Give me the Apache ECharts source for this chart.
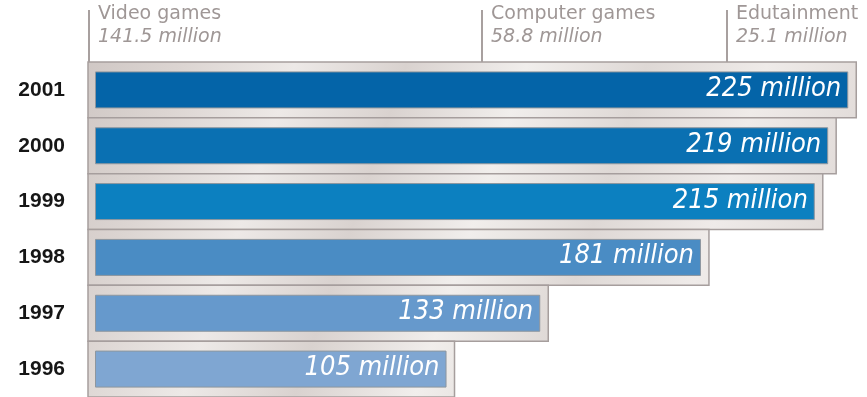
<!DOCTYPE html>
<html>
<head>
<meta charset="utf-8">
<script src="https://cdn.jsdelivr.net/npm/echarts@6/dist/echarts.min.js"></script>
<style>html,body{margin:0;padding:0;background:#fff;}#c{width:867px;height:397px;}</style>
</head>
<body>
<div id="c"></div>
<script>
const categories = ['2001', '2000', '1999', '1998', '1997', '1996'];
const values = [225, 219, 215, 181, 133, 105];
const barColors = ['#0464a8', '#0a70b2', '#0c80c0', '#4a8cc4', '#6699cc', '#7fa6d2'];
const headerNames = ['Video games', 'Computer games', 'Edutainment'];
const headerValues = ['141.5 million', '58.8 million', '25.1 million'];
const headerX = [89, 482, 727];

const chart = echarts.init(document.getElementById('c'), null, {renderer: 'canvas'});

const frameFill = new echarts.graphic.LinearGradient(88, 40, 860, 300, [
  {offset: 0, color: '#cfc7c4'},
  {offset: 0.12, color: '#dcd5d2'},
  {offset: 0.25, color: '#ede9e7'},
  {offset: 0.38, color: '#d9d2cf'},
  {offset: 0.52, color: '#f1eeec'},
  {offset: 0.66, color: '#ded8d5'},
  {offset: 0.8, color: '#efebe9'},
  {offset: 1, color: '#dbd4d1'}
], true);

const graphics = [];
headerNames.forEach((name, i) => {
  graphics.push({
    type: 'line', z: 10,
    shape: {x1: headerX[i], y1: 10, x2: headerX[i], y2: 62},
    style: {stroke: '#a8a09f', lineWidth: 2}
  });
  graphics.push({
    type: 'text', z: 10, left: headerX[i] + 9, top: 5,
    style: {text: name, fill: '#9f9796', font: '19px "DejaVu Sans"'}
  });
  graphics.push({
    type: 'text', z: 10, left: headerX[i] + 9, top: 28,
    style: {text: headerValues[i], fill: '#9f9796', font: 'italic 19px "DejaVu Sans"'}
  });
});

const option = {
  backgroundColor: '#ffffff',
  animation: false,
  grid: {left: 95, right: 2, top: 62, bottom: -1, containLabel: false},
  xAxis: {
    type: 'value', min: 0, max: 230, show: false
  },
  yAxis: {
    type: 'category', data: categories, inverse: true,
    axisLine: {show: false}, axisTick: {show: false}, splitLine: {show: false},
    axisLabel: {
      margin: 30, color: '#161616', fontSize: 21, fontWeight: 'bold',
      fontFamily: '"Liberation Sans", Arial, sans-serif'
    }
  },
  graphic: graphics,
  series: [
    {
      type: 'custom', z: 1,
      data: values.map((v, i) => [v, i]),
      encode: {x: 0, y: 1},
      renderItem: function (params, api) {
        const idx = api.value(1);
        const s = api.coord([0, idx]);
        const e = api.coord([api.value(0), idx]);
        const h = api.size([0, 1])[1];
        return {
          type: 'rect',
          shape: {x: s[0] - 7, y: s[1] - h / 2, width: e[0] - s[0] + 15, height: h},
          style: {fill: frameFill, stroke: '#a69e9d', lineWidth: 1.5}
        };
      }
    },
    {
      type: 'bar', z: 2,
      barWidth: 37,
      data: values.map((v, i) => ({value: v, itemStyle: {color: barColors[i]}})),
      itemStyle: {borderColor: '#8e969e', borderWidth: 1},
      label: {
        show: true, position: 'insideRight', distance: 7, offset: [0, -1],
        formatter: p => p.value + ' million',
        color: '#ffffff', fontSize: 27, fontStyle: 'italic',
        fontFamily: '"DejaVu Sans Condensed", "DejaVu Sans", sans-serif'
      }
    }
  ]
};
chart.setOption(option);
</script>
</body>
</html>
